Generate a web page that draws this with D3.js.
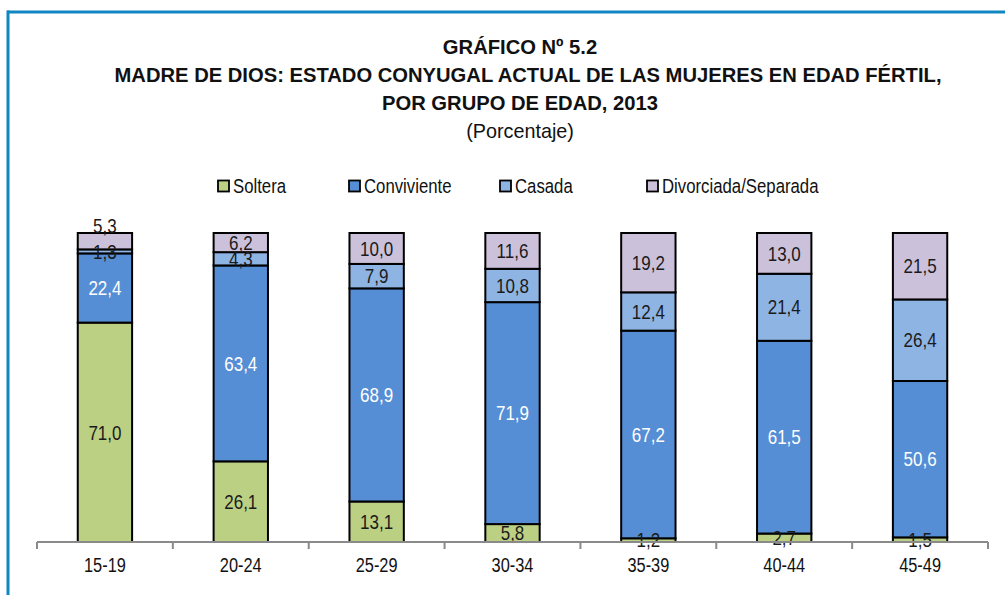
<!DOCTYPE html>
<html>
<head>
<meta charset="utf-8">
<script src="https://cdn.jsdelivr.net/npm/d3@7"></script>
<style>
  html, body { margin: 0; padding: 0; background: #fff; }
  svg { display: block; }
  text { font-family: "Liberation Sans", Arial, sans-serif; }
</style>
</head>
<body>
<svg id="chart" width="1005" height="595"></svg>
<script>
// Age groups and marital-status shares (%)
const categories = ["15-19", "20-24", "25-29", "30-34", "35-39", "40-44", "45-49"];
const seriesNames = ["Soltera", "Conviviente", "Casada", "Divorciada/Separada"];
const soltera     = [71.0, 26.1, 13.1, 5.8, 1.2, 2.7, 1.5];
const conviviente = [22.4, 63.4, 68.9, 71.9, 67.2, 61.5, 50.6];
const casada      = [1.3, 4.3, 7.9, 10.8, 12.4, 21.4, 26.4];
const divorciada  = [5.3, 6.2, 10.0, 11.6, 19.2, 13.0, 21.5];
const titleLines = [
  "GRÁFICO Nº 5.2",
  "MADRE DE DIOS: ESTADO CONYUGAL ACTUAL DE LAS MUJERES EN EDAD FÉRTIL,",
  "POR GRUPO DE EDAD, 2013"
];
const subtitle = "(Porcentaje)";

const seriesValues = [soltera, conviviente, casada, divorciada];
const colors = ["#bcd084", "#558ed5", "#8eb4e3", "#ccc1da"];
const labelColors = ["#1a1a1a", "#ffffff", "#1a1a1a", "#1a1a1a"];

// narrow type: regular sans squeezed horizontally
function place(sel, x, y, sx) {
  return sel.attr("x", 0).attr("y", 0)
    .attr("transform", `translate(${x},${y}) scale(${sx},1)`);
}

const svg = d3.select("#chart");

// frame (top and left rules)
svg.append("line").attr("x1", 7).attr("x2", 1005).attr("y1", 12).attr("y2", 12)
  .attr("stroke", "#1087c2").attr("stroke-width", 3);
svg.append("line").attr("x1", 8).attr("x2", 8).attr("y1", 10.5).attr("y2", 595)
  .attr("stroke", "#1087c2").attr("stroke-width", 3);

// titles
const titleCx = [520, 528, 520];
const titleG = svg.append("g").attr("text-anchor", "middle");
titleLines.forEach((t, i) => {
  place(titleG.append("text"), titleCx[i], 54 + i * 28, 1)
    .attr("font-size", 20.2).attr("font-weight", "bold").attr("fill", "#111")
    .text(t);
});
place(titleG.append("text"), 520, 138, 1)
  .attr("font-size", 19.8).attr("fill", "#111").text(subtitle);

// stacked, normalised to 100%
const rows = categories.map((c, i) => {
  const r = { cat: c };
  seriesNames.forEach((s, k) => { r[s] = seriesValues[k][i]; });
  return r;
});
const stack = d3.stack().keys(seriesNames).offset(d3.stackOffsetExpand);
const layers = stack(rows);

const x = d3.scaleBand().domain(categories).range([37, 988]).paddingInner(0).paddingOuter(0);
const y = d3.scaleLinear().domain([0, 1]).range([542, 233]);
const barW = x.bandwidth() * 0.4;

const plot = svg.append("g");
layers.forEach((layer, k) => {
  plot.append("g").selectAll("rect").data(layer).join("rect")
    .attr("x", d => x(d.data.cat) + (x.bandwidth() - barW) / 2)
    .attr("width", barW)
    .attr("y", d => y(d[1]))
    .attr("height", d => y(d[0]) - y(d[1]))
    .attr("fill", colors[k])
    .attr("stroke", "#000")
    .attr("stroke-width", 2);
});

// axis
const axis = d3.axisBottom(x).tickSize(0).tickFormat(d => d);
const axG = svg.append("g").attr("transform", "translate(0,542)").call(axis);
axG.select(".domain").attr("stroke", "#8a8a8a").attr("stroke-width", 2)
  .attr("d", "M37,0H988");
axG.selectAll(".tick text").each(function () {
  place(d3.select(this), 0, 30, 0.84).attr("dy", null)
    .attr("font-size", 19.5).attr("fill", "#111")
    .attr("font-family", "'Liberation Sans', Arial, sans-serif");
});
// tick marks at category boundaries
const bounds = categories.map(c => x(c)).concat([x.range()[1]]);
axG.append("g").selectAll("line").data(bounds).join("line")
  .attr("x1", d => d).attr("x2", d => d).attr("y1", 0).attr("y2", 7)
  .attr("stroke", "#8a8a8a").attr("stroke-width", 2);

// data labels (centred in each segment)
const nudge = { "Divorciada/Separada|15-19": -15 };
const fmt = v => v.toFixed(1).replace(".", ",");
layers.forEach((layer, k) => {
  plot.append("g").selectAll("text").data(layer).join("text")
    .each(function (d) {
      const cx = x(d.data.cat) + x.bandwidth() / 2;
      const cy = (y(d[0]) + y(d[1])) / 2 + (nudge[layer.key + "|" + d.data.cat] || 0);
      place(d3.select(this), cx, cy, 0.85);
    })
    .attr("dy", "0.36em")
    .attr("text-anchor", "middle")
    .attr("font-size", 20)
    .attr("fill", labelColors[k])
    .text(d => fmt(d.data[layer.key]));
});

// legend
const legendX = [218, 349, 500, 647];
const leg = svg.append("g");
seriesNames.forEach((s, k) => {
  leg.append("rect").attr("x", legendX[k]).attr("y", 180.5).attr("width", 11).attr("height", 11)
    .attr("fill", colors[k]).attr("stroke", "#000").attr("stroke-width", 1.8);
  place(leg.append("text"), legendX[k] + 15, 186, 0.86).attr("dy", "0.36em")
    .attr("font-size", 19.5).attr("fill", "#111").text(s);
});
</script>
</body>
</html>
